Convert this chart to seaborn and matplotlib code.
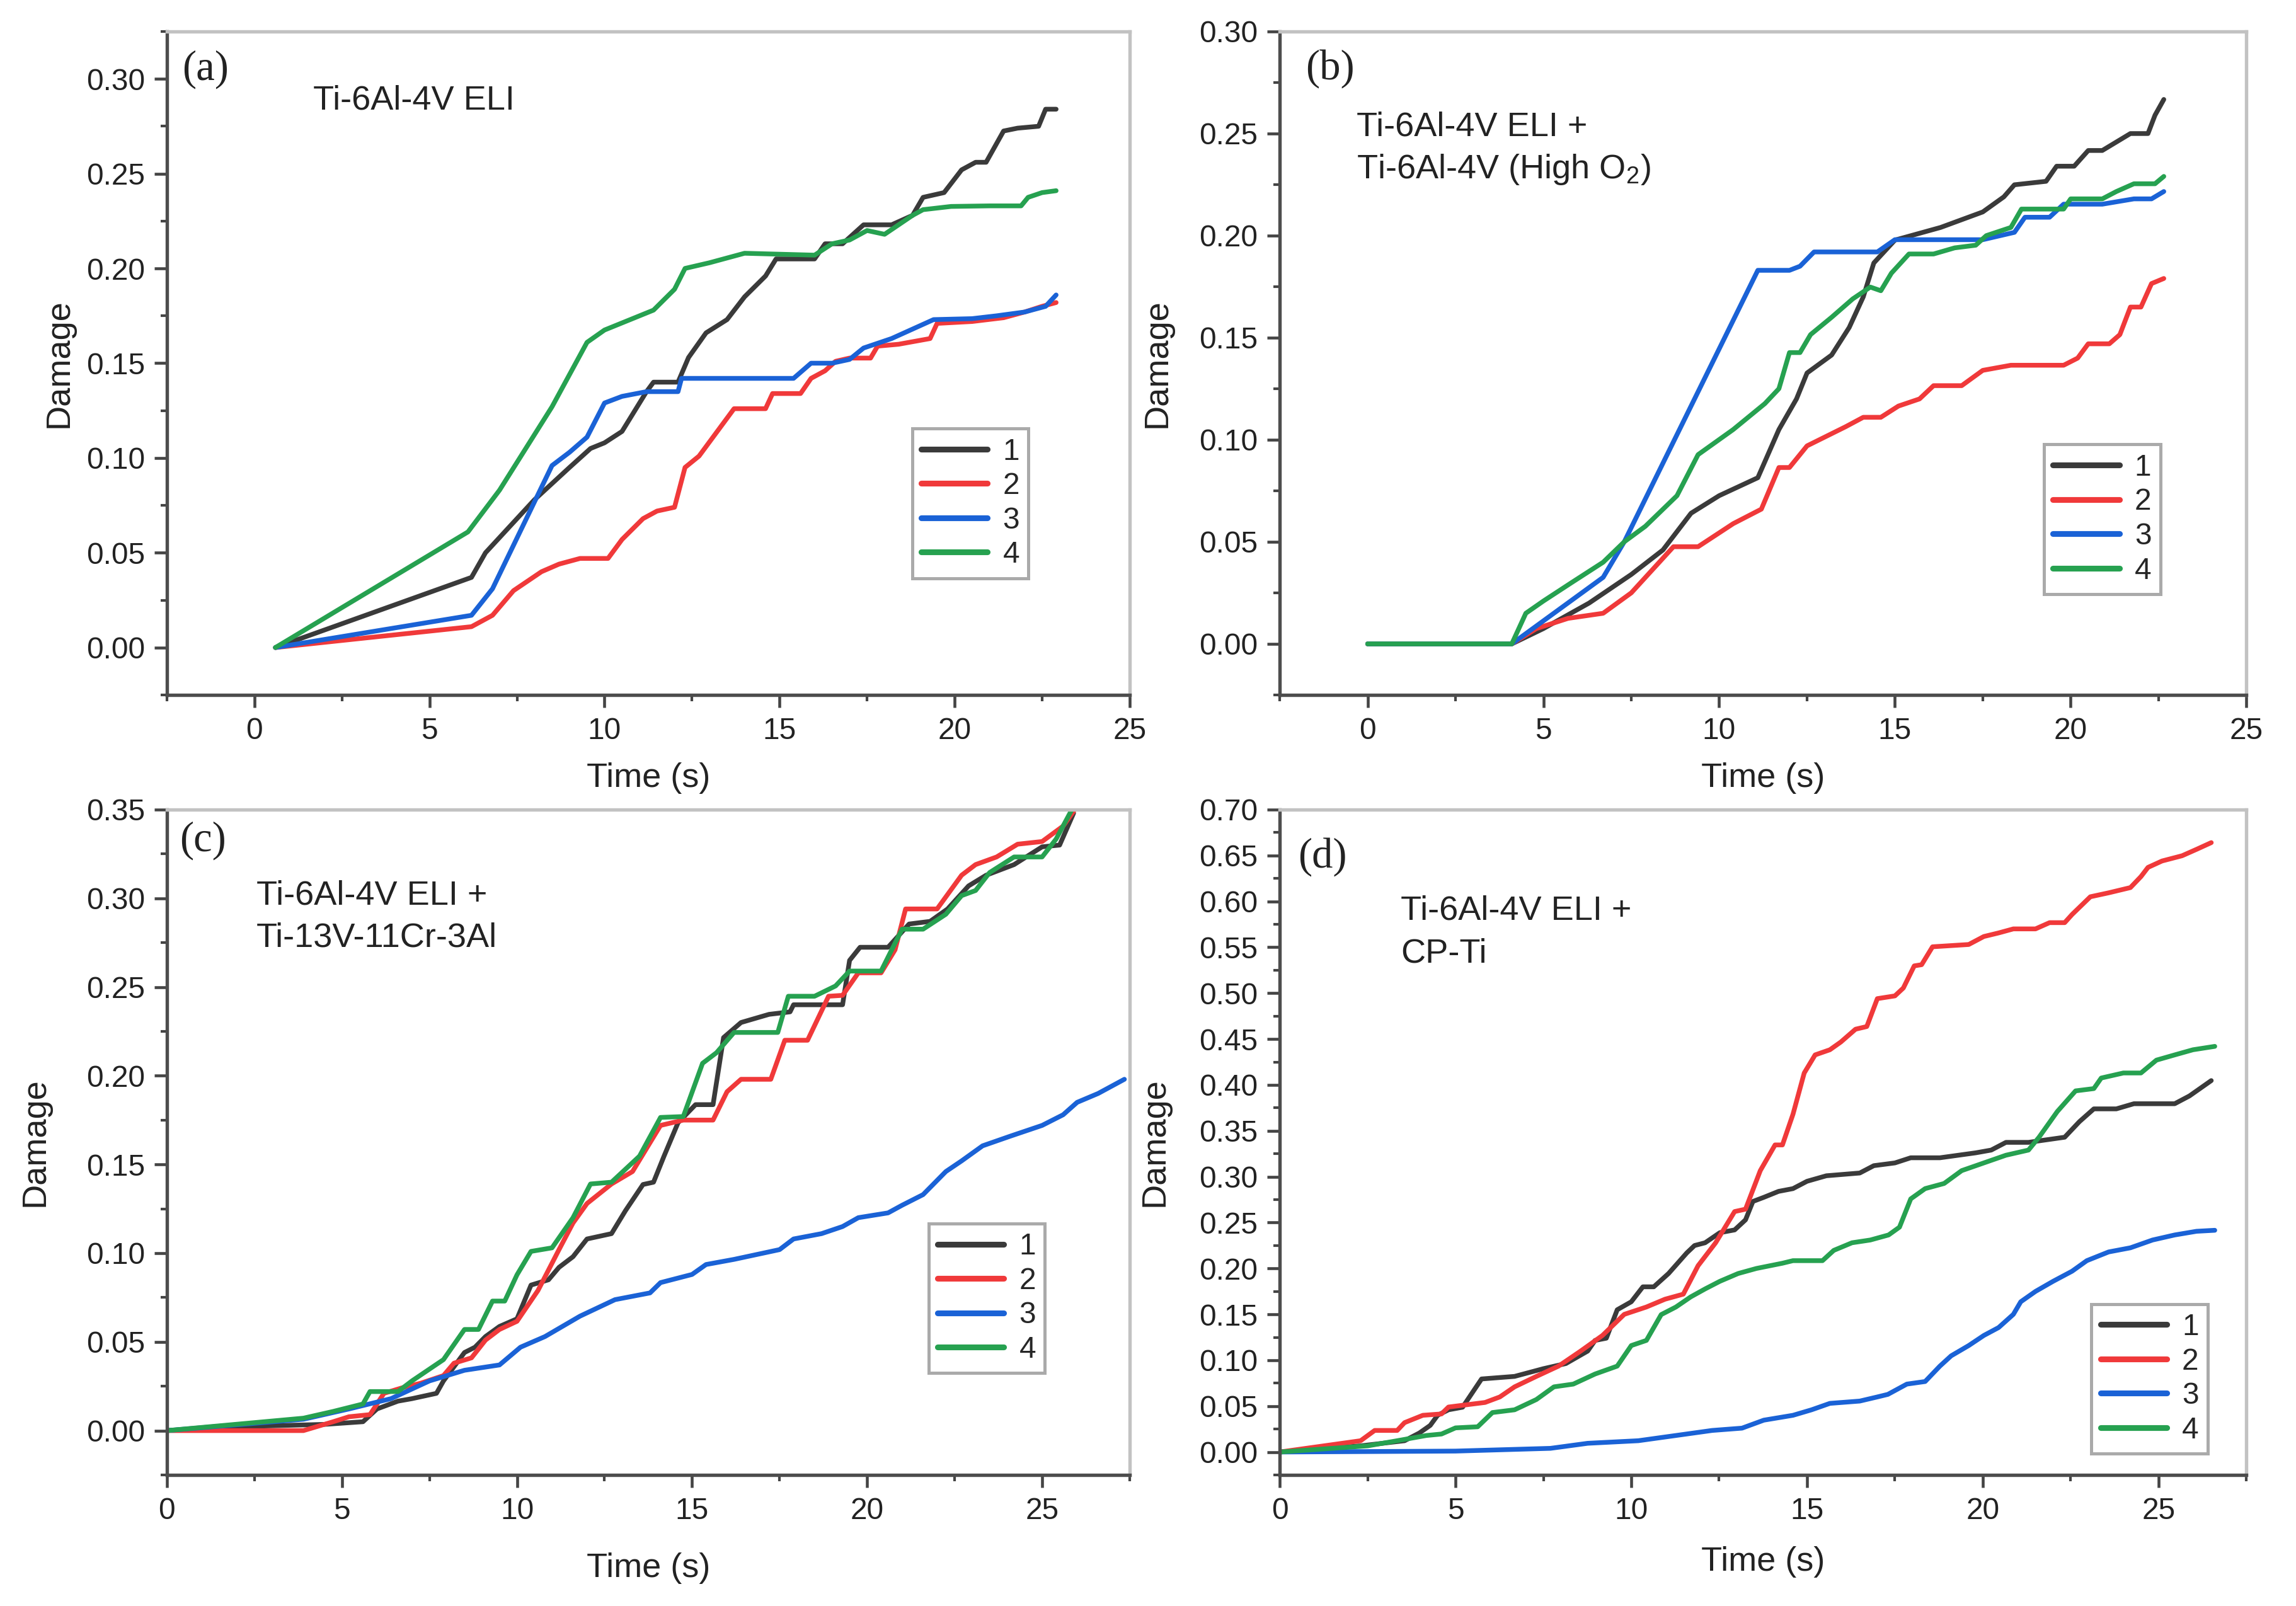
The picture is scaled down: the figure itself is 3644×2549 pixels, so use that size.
import numpy as np
import pandas as pd
import seaborn as sns
import matplotlib.pyplot as plt
from matplotlib.ticker import MultipleLocator

# ------------------------------------------------------------------
# Data (time in s, damage)
# ------------------------------------------------------------------
# (a) Ti-6Al-4V ELI
a1_t = [0.6, 6.2, 6.6, 7.0, 8.0, 9.0, 9.6, 10.0, 10.5, 11.2, 11.4, 12.1, 12.4, 12.9, 13.5, 14.0, 14.6, 14.9,
        16.0, 16.3, 16.8, 17.4, 18.2, 18.8, 19.1, 19.7, 20.2, 20.6, 20.9, 21.4, 21.8, 22.4, 22.6, 22.9]
a1_d = [0, 0.037, 0.050, 0.058, 0.078, 0.095, 0.105, 0.108, 0.114, 0.135, 0.140, 0.140, 0.153, 0.166, 0.173,
        0.185, 0.196, 0.205, 0.205, 0.213, 0.213, 0.223, 0.223, 0.228, 0.2375, 0.240, 0.252, 0.256, 0.256,
        0.2725, 0.274, 0.275, 0.284, 0.284]
a2_t = [0.6, 6.2, 6.8, 7.4, 8.2, 8.7, 9.3, 10.1, 10.5, 11.1, 11.5, 12.0, 12.3, 12.7, 13.3, 13.7, 14.6, 14.8,
        15.6, 15.9, 16.3, 16.6, 17.0, 17.6, 17.8, 18.4, 19.0, 19.3, 19.5, 20.5, 21.4, 22.0, 22.5, 22.9]
a2_d = [0, 0.011, 0.017, 0.030, 0.040, 0.044, 0.047, 0.047, 0.057, 0.068, 0.072, 0.074, 0.095, 0.101, 0.116,
        0.126, 0.126, 0.134, 0.134, 0.142, 0.146, 0.151, 0.1527, 0.1527, 0.159, 0.160, 0.162, 0.163, 0.171,
        0.172, 0.174, 0.177, 0.180, 0.182]
a3_t = [0.6, 6.2, 6.8, 8.5, 9.0, 9.5, 10.0, 10.5, 11.2, 12.1, 12.2, 15.4, 15.9, 16.5, 17.0, 17.4, 18.2, 18.8,
        19.4, 20.5, 21.2, 22.0, 22.6, 22.9]
a3_d = [0, 0.017, 0.031, 0.096, 0.103, 0.111, 0.129, 0.1325, 0.135, 0.135, 0.142, 0.142, 0.150, 0.150, 0.152,
        0.158, 0.163, 0.168, 0.173, 0.1735, 0.175, 0.177, 0.180, 0.186]
a4_t = [0.6, 6.1, 7.0, 8.5, 9.5, 10.0, 11.4, 12.0, 12.3, 13.0, 14.0, 16.0, 16.5, 17.0, 17.5, 18.0, 18.4, 18.8,
        19.1, 19.9, 21.0, 21.9, 22.1, 22.5, 22.9]
a4_d = [0, 0.061, 0.083, 0.127, 0.161, 0.1675, 0.178, 0.189, 0.200, 0.203, 0.208, 0.207, 0.213, 0.215, 0.220,
        0.218, 0.223, 0.228, 0.231, 0.2327, 0.233, 0.233, 0.2375, 0.240, 0.241]

# (b) Ti-6Al-4V ELI + Ti-6Al-4V (High O2)
b1_t = [0, 4.1, 5.0, 6.3, 7.5, 8.4, 9.2, 10.0, 11.1, 11.7, 12.2, 12.5, 13.2, 13.7, 14.1, 14.4, 15.0, 16.3,
        17.5, 18.1, 18.4, 19.3, 19.6, 20.1, 20.5, 20.9, 21.7, 22.2, 22.4, 22.65]
b1_d = [0, 0, 0.0075, 0.020, 0.034, 0.046, 0.064, 0.0726, 0.0814, 0.105, 0.120, 0.1327, 0.1415, 0.155, 0.170,
        0.1866, 0.1978, 0.204, 0.2116, 0.219, 0.2249, 0.2266, 0.234, 0.234, 0.2417, 0.2417, 0.250, 0.250,
        0.259, 0.2667]
b2_t = [0, 4.1, 4.8, 5.7, 6.7, 7.5, 8.7, 9.4, 10.4, 11.2, 11.7, 12.0, 12.5, 13.6, 14.1, 14.6, 15.1, 15.7,
        16.1, 16.9, 17.5, 18.3, 19.8, 20.2, 20.5, 21.1, 21.4, 21.7, 22.0, 22.3, 22.65]
b2_d = [0, 0, 0.0075, 0.0125, 0.015, 0.025, 0.0476, 0.0476, 0.0589, 0.066, 0.0864, 0.0864, 0.097, 0.1064,
        0.111, 0.111, 0.1165, 0.120, 0.1265, 0.1265, 0.134, 0.1365, 0.1365, 0.140, 0.147, 0.147, 0.1515,
        0.165, 0.165, 0.1765, 0.179]
b3_t = [0, 4.1, 6.7, 7.3, 11.1, 12.0, 12.3, 12.7, 14.5, 15.0, 17.5, 18.4, 18.7, 19.4, 19.8, 20.9, 21.8,
        22.3, 22.65]
b3_d = [0, 0, 0.0326, 0.050, 0.183, 0.183, 0.185, 0.192, 0.192, 0.198, 0.198, 0.2016, 0.209, 0.209, 0.2154,
        0.2154, 0.218, 0.218, 0.2216]
b4_t = [0, 4.1, 4.5, 5.0, 5.8, 6.7, 7.3, 7.9, 8.8, 9.4, 10.4, 11.3, 11.7, 12.0, 12.3, 12.6, 13.2, 13.8,
        14.3, 14.6, 14.9, 15.4, 16.1, 16.7, 17.3, 17.6, 18.3, 18.6, 19.8, 20.0, 20.9, 21.3, 21.8, 22.4, 22.65]
b4_d = [0, 0, 0.015, 0.021, 0.030, 0.040, 0.050, 0.0576, 0.0726, 0.0927, 0.105, 0.1177, 0.125, 0.1427,
        0.1427, 0.1515, 0.160, 0.169, 0.1748, 0.173, 0.1816, 0.191, 0.191, 0.194, 0.1953, 0.200, 0.204,
        0.213, 0.213, 0.218, 0.218, 0.2216, 0.2254, 0.2254, 0.229]

# (c) Ti-6Al-4V ELI + Ti-13V-11Cr-3Al
c1_t = [0, 1.6, 4.5, 5.6, 6.0, 6.6, 7.0, 7.7, 7.9, 8.5, 8.8, 9.1, 9.5, 10.0, 10.4, 10.9, 11.2, 11.6, 12.0,
        12.7, 13.1, 13.6, 13.9, 14.2, 14.6, 15.1, 15.6, 15.9, 16.4, 17.2, 17.8, 17.9, 19.3, 19.5, 19.8, 20.6,
        21.2, 21.8, 22.3, 22.9, 23.4, 24.2, 25.0, 25.5, 25.9]
c1_d = [0, 0.002, 0.0035, 0.005, 0.0122, 0.0166, 0.018, 0.021, 0.028, 0.044, 0.047, 0.053, 0.0587, 0.063,
        0.082, 0.085, 0.092, 0.098, 0.108, 0.111, 0.124, 0.1387, 0.140, 0.1547, 0.1735, 0.1837, 0.1837,
        0.2215, 0.230, 0.2346, 0.236, 0.240, 0.240, 0.265, 0.2724, 0.2724, 0.2855, 0.287, 0.294, 0.307,
        0.313, 0.319, 0.329, 0.330, 0.348]
c2_t = [0, 3.9, 4.75, 5.2, 5.8, 6.2, 6.7, 7.25, 7.9, 8.2, 8.7, 9.1, 9.5, 10.0, 10.6, 11.2, 11.6, 12.0, 12.7,
        13.3, 14.1, 14.75, 15.6, 16.0, 16.4, 17.25, 17.65, 18.3, 18.9, 19.3, 19.75, 20.4, 20.8, 21.1, 22.0,
        22.7, 23.1, 23.7, 24.3, 25.0, 25.6, 25.9]
c2_d = [0, 0, 0.005, 0.0078, 0.009, 0.021, 0.024, 0.0267, 0.031, 0.038, 0.041, 0.051, 0.057, 0.0616, 0.079,
        0.102, 0.117, 0.128, 0.139, 0.146, 0.172, 0.175, 0.175, 0.191, 0.198, 0.198, 0.220, 0.220, 0.2448,
        0.2453, 0.258, 0.258, 0.271, 0.294, 0.294, 0.313, 0.319, 0.3233, 0.3305, 0.332, 0.3407, 0.349]
c3_t = [0, 3.9, 5.2, 6.4, 7.5, 8.5, 9.5, 10.1, 10.8, 11.8, 12.8, 13.8, 14.1, 15.0, 15.4, 16.2, 17.5, 17.9,
        18.7, 19.3, 19.75, 20.6, 21.0, 21.6, 22.25, 22.7, 23.3, 24.1, 25.0, 25.6, 26.0, 26.6, 27.35]
c3_d = [0, 0.0064, 0.0122, 0.018, 0.028, 0.034, 0.037, 0.047, 0.053, 0.0645, 0.0738, 0.0776, 0.0834, 0.088,
        0.0936, 0.0965, 0.102, 0.108, 0.111, 0.115, 0.120, 0.1227, 0.127, 0.133, 0.146, 0.152, 0.1605,
        0.166, 0.172, 0.178, 0.185, 0.190, 0.198]
c4_t = [0, 3.9, 4.75, 5.6, 5.8, 6.6, 7.0, 7.9, 8.5, 8.9, 9.3, 9.65, 10.0, 10.4, 11.0, 11.6, 12.1, 12.7, 13.5,
        14.1, 14.75, 15.3, 15.7, 16.2, 17.45, 17.75, 18.5, 19.1, 19.5, 20.4, 21.0, 21.6, 22.25, 22.7, 23.1,
        23.5, 24.2, 25.0, 25.4, 25.85]
c4_d = [0, 0.007, 0.0108, 0.015, 0.022, 0.022, 0.028, 0.040, 0.057, 0.057, 0.073, 0.073, 0.0878, 0.101,
        0.103, 0.120, 0.139, 0.140, 0.1547, 0.1765, 0.177, 0.207, 0.213, 0.2244, 0.2244, 0.2448, 0.2448,
        0.2506, 0.259, 0.259, 0.2826, 0.2826, 0.291, 0.3015, 0.3044, 0.3145, 0.3233, 0.3233, 0.3334, 0.350]

# (d) Ti-6Al-4V ELI + CP-Ti
d1_t = [0, 2.3, 3.55, 3.97, 4.28, 4.49, 4.8, 5.2, 5.74, 6.68, 7.5, 8.14, 8.76, 8.97, 9.29, 9.6, 10.0, 10.33,
        10.64, 11.06, 11.58, 11.8, 12.1, 12.52, 12.94, 13.25, 13.46, 13.77, 14.19, 14.6, 15.0, 15.55, 16.5,
        16.9, 17.5, 17.95, 18.78, 19.8, 20.24, 20.66, 21.3, 22.33, 22.75, 23.16, 23.8, 24.3, 25.46, 25.88, 26.5]
d1_d = [0, 0.0067, 0.0123, 0.0207, 0.029, 0.040, 0.046, 0.0488, 0.0796, 0.0824, 0.0908, 0.0964, 0.110,
        0.1216, 0.124, 0.155, 0.1637, 0.180, 0.180, 0.1945, 0.217, 0.225, 0.228, 0.239, 0.242, 0.253, 0.273,
        0.2775, 0.284, 0.287, 0.295, 0.301, 0.304, 0.312, 0.315, 0.3206, 0.3206, 0.326, 0.329, 0.3374,
        0.3374, 0.343, 0.360, 0.3739, 0.3739, 0.3795, 0.3795, 0.388, 0.4047]
d2_t = [0, 2.3, 2.7, 3.34, 3.55, 4.07, 4.6, 4.8, 5.84, 6.26, 6.68, 7.3, 7.93, 8.56, 9.18, 9.8, 10.43, 10.96,
        11.48, 11.9, 12.4, 12.94, 13.25, 13.67, 14.09, 14.3, 14.6, 14.92, 15.23, 15.65, 15.96, 16.38, 16.7,
        17.0, 17.5, 17.74, 18.05, 18.26, 18.57, 19.6, 20.03, 20.45, 20.87, 21.5, 21.9, 22.33, 22.54, 23.06,
        23.58, 24.2, 24.5, 24.7, 25.1, 25.67, 26.1, 26.5]
d2_d = [0, 0.0123, 0.0235, 0.0235, 0.032, 0.040, 0.0415, 0.049, 0.054, 0.060, 0.071, 0.0824, 0.0936, 0.110,
        0.127, 0.150, 0.158, 0.1665, 0.172, 0.203, 0.228, 0.262, 0.2646, 0.3066, 0.3346, 0.3346, 0.368,
        0.413, 0.4327, 0.4383, 0.4467, 0.4607, 0.4636, 0.494, 0.497, 0.5056, 0.5297, 0.531, 0.5505, 0.553,
        0.5617, 0.5656, 0.570, 0.570, 0.5768, 0.5768, 0.5857, 0.605, 0.6093, 0.615, 0.627, 0.637, 0.644,
        0.6497, 0.657, 0.664]
d3_t = [0, 5.0, 7.7, 8.76, 10.2, 11.27, 12.3, 13.15, 13.77, 14.6, 15.13, 15.65, 16.5, 17.0, 17.3, 17.84,
        18.36, 18.78, 19.1, 19.6, 20.03, 20.45, 20.87, 21.08, 21.5, 22.0, 22.54, 22.96, 23.58, 24.2, 24.83,
        25.46, 26.08, 26.6]
d3_d = [0, 0.001, 0.004, 0.0095, 0.0123, 0.018, 0.0235, 0.026, 0.0347, 0.040, 0.046, 0.053, 0.0555, 0.060,
        0.0628, 0.074, 0.0768, 0.0936, 0.1048, 0.116, 0.127, 0.1356, 0.150, 0.1637, 0.175, 0.186, 0.197,
        0.2085, 0.218, 0.2225, 0.231, 0.2365, 0.2405, 0.2416]
d4_t = [0, 2.5, 3.34, 4.17, 4.6, 5.0, 5.63, 6.05, 6.68, 7.3, 7.8, 8.35, 8.97, 9.6, 10.0, 10.43, 10.85, 11.27,
        11.69, 12.1, 12.52, 13.04, 13.56, 14.3, 14.6, 15.44, 15.76, 16.28, 16.8, 17.32, 17.63, 17.95, 18.36,
        18.9, 19.4, 20.03, 20.66, 21.3, 21.6, 22.12, 22.64, 23.16, 23.37, 24.0, 24.5, 24.94, 25.46, 25.98, 26.6]
d4_d = [0, 0.0067, 0.0123, 0.018, 0.0196, 0.0263, 0.0275, 0.043, 0.046, 0.0572, 0.071, 0.074, 0.085,
        0.0936, 0.116, 0.1216, 0.1497, 0.158, 0.169, 0.1777, 0.186, 0.1945, 0.200, 0.2057, 0.2085, 0.2085,
        0.2197, 0.228, 0.231, 0.2365, 0.245, 0.2758, 0.287, 0.2926, 0.3066, 0.315, 0.3234, 0.329, 0.343,
        0.371, 0.3935, 0.396, 0.4075, 0.413, 0.413, 0.427, 0.4327, 0.4383, 0.442]

series_labels = ['1', '2', '3', '4']
series_colors = ['#3a3a3a', '#f0393a', '#1a62d6', '#26a150']

panel_tags = ['(a)', '(b)', '(c)', '(d)']
panel_text = [['Ti-6Al-4V ELI'],
              ['Ti-6Al-4V ELI +', r'Ti-6Al-4V (High $\mathregular{O_2}$)'],
              ['Ti-6Al-4V ELI +', 'Ti-13V-11Cr-3Al'],
              ['Ti-6Al-4V ELI +', 'CP-Ti']]

# --------------------------------------------------------------------------------------------
# Style
# --------------------------------------------------------------------------------------------
sns.set_style('ticks')
plt.rcParams['font.family'] = ['Liberation Sans', 'DejaVu Sans']
plt.rcParams['mathtext.fontset'] = 'custom'
plt.rcParams['mathtext.rm'] = 'Liberation Sans'

fig = plt.figure(figsize=(3644 / 300, 2549 / 300), dpi=300)
fig.patch.set_facecolor('white')

panels = [
    dict(rect=[0.0727, 0.5673, 0.4193, 0.4131], xlim=(-2.5, 25), ylim=(-0.025, 0.325), ymaj=0.05,
         series=[(a1_t, a1_d), (a2_t, a2_d), (a3_t, a3_d), (a4_t, a4_d)],
         tag_xy=(0.016, 0.943), text_xy=(0.152, 0.896), leg=(0.895, 0.176), ylpad=4.5, xlpad=6.5),
    dict(rect=[0.5574, 0.5673, 0.4210, 0.4131], xlim=(-2.5, 25), ylim=(-0.025, 0.30), ymaj=0.05,
         series=[(b1_t, b1_d), (b2_t, b2_d), (b3_t, b3_d), (b4_t, b4_d)],
         tag_xy=(0.027, 0.944), text_xy=(0.0795, 0.856), leg=(0.911, 0.152), ylpad=10, xlpad=6.5),
    dict(rect=[0.0727, 0.0816, 0.4193, 0.4143], xlim=(0, 27.5), ylim=(-0.025, 0.35), ymaj=0.05,
         series=[(c1_t, c1_d), (c2_t, c2_d), (c3_t, c3_d), (c4_t, c4_d)],
         tag_xy=(0.013, 0.953), text_xy=(0.093, 0.871), leg=(0.912, 0.153), ylpad=13.5, xlpad=10.5),
    dict(rect=[0.5574, 0.0816, 0.4210, 0.4143], xlim=(0, 27.5), ylim=(-0.025, 0.70), ymaj=0.05,
         series=[(d1_t, d1_d), (d2_t, d2_d), (d3_t, d3_d), (d4_t, d4_d)],
         tag_xy=(0.019, 0.929), text_xy=(0.125, 0.848), leg=(0.960, 0.032), ylpad=11, xlpad=8),
]

for i, p in enumerate(panels):
    ax = fig.add_axes(p['rect'])
    for (t, d), lab, col in zip(p['series'], series_labels, series_colors):
        df = pd.DataFrame({'Time': t, 'Damage': d})
        sns.lineplot(data=df, x='Time', y='Damage', ax=ax, color=col, lw=1.8,
                     label=lab, sort=False, estimator=None)

    ax.set_xlim(*p['xlim'])
    ax.set_ylim(*p['ylim'])
    ax.xaxis.set_major_locator(MultipleLocator(5))
    ax.xaxis.set_minor_locator(MultipleLocator(2.5))
    ax.yaxis.set_major_locator(MultipleLocator(p['ymaj']))
    ax.yaxis.set_minor_locator(MultipleLocator(p['ymaj'] / 2))
    ax.yaxis.set_major_formatter(plt.FuncFormatter(lambda v, pos: f'{v:.2f}'))
    ax.xaxis.set_major_formatter(plt.FuncFormatter(lambda v, pos: f'{v:g}'))

    ax.tick_params(which='major', direction='out', length=4.8, width=1.1, color='#444444',
                   labelsize=11.5, labelcolor='#222222', pad=3.5)
    ax.tick_params(which='minor', direction='out', length=2.4, width=1.0, color='#444444')

    for side in ['left', 'bottom']:
        ax.spines[side].set_color('#4d4d4d')
        ax.spines[side].set_linewidth(1.3)
    for side in ['top', 'right']:
        ax.spines[side].set_visible(True)
        ax.spines[side].set_color('#c2c2c2')
        ax.spines[side].set_linewidth(1.3)

    ax.set_xlabel('Time (s)', fontsize=13, color='#222222', labelpad=p['xlpad'])
    ax.set_ylabel('Damage', fontsize=13, color='#222222', labelpad=p['ylpad'])

    ax.text(p['tag_xy'][0], p['tag_xy'][1], panel_tags[i], transform=ax.transAxes,
            family=['Liberation Serif', 'DejaVu Serif'], fontsize=16, color='#222222',
            ha='left', va='center')
    tx, ty = p['text_xy']
    for k, line in enumerate(panel_text[i]):
        ax.text(tx, ty - k * 0.064, line, transform=ax.transAxes, fontsize=13, color='#222222',
                ha='left', va='center')

    leg = ax.legend(loc='lower right', bbox_to_anchor=p['leg'], fontsize=11.5, frameon=True,
                    fancybox=False, framealpha=1, edgecolor='#aaaaaa', handlelength=2.2,
                    handletextpad=0.5, labelspacing=0.2, borderpad=0.3, borderaxespad=0)
    leg.get_frame().set_linewidth(1.2)
    for h in leg.get_lines():
        h.set_linewidth(2.2)

plt.savefig('out.png', dpi=300, facecolor='white')
